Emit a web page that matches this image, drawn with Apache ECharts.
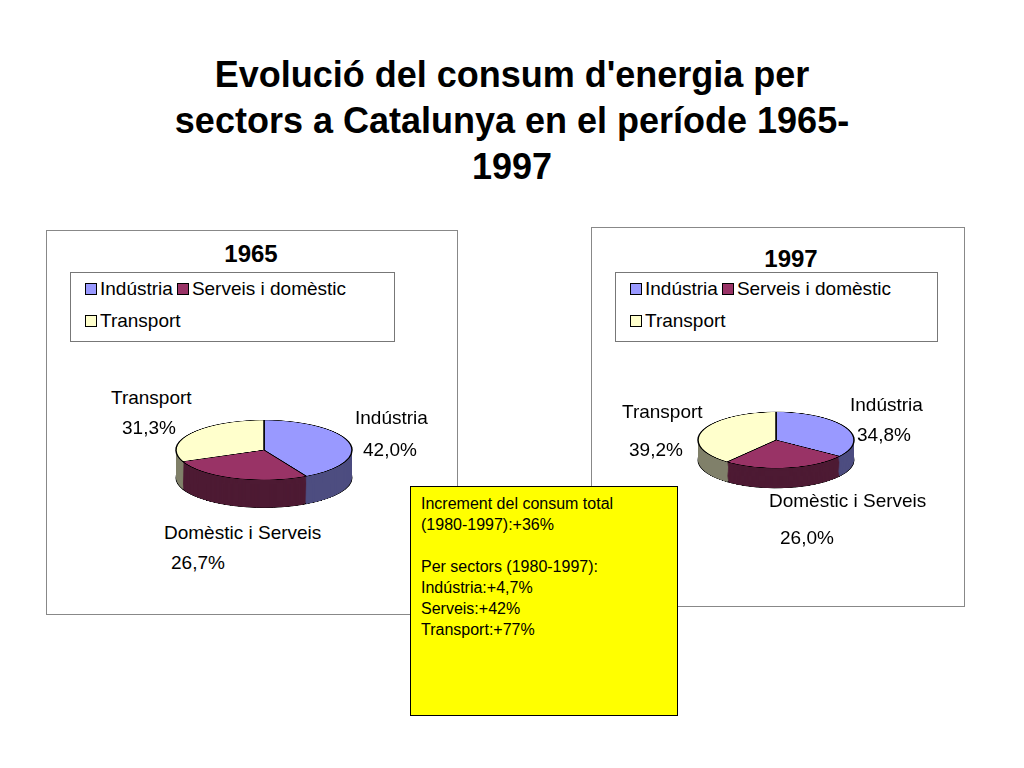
<!DOCTYPE html>
<html><head><meta charset="utf-8">
<script src="https://cdn.jsdelivr.net/npm/echarts@6/dist/echarts.min.js"></script>
<style>
body{margin:0;width:1024px;height:768px;background:#fff;font-family:"Liberation Sans",Arial,sans-serif;position:relative;overflow:hidden}
.abs{position:absolute}
.box{position:absolute;border:1px solid #888;background:#fff}
.leg{position:absolute;border:1px solid #777;font-size:19px;line-height:32px;padding-left:14px}
.sw{display:inline-block;width:10px;height:10px;border:1px solid #000;margin-right:3px}
.lbl{position:absolute;font-size:19px;line-height:27px}
</style></head><body>
<div class="abs" style="left:0;top:52px;width:1024px;text-align:center;font-size:36px;font-weight:bold;line-height:46px">Evolució del consum d'energia per<br>sectors a Catalunya en el període 1965-<br>1997</div>

<div class="box" style="left:46px;top:230px;width:410px;height:383px"></div>
<div class="box" style="left:591px;top:227px;width:372px;height:378px"></div>

<div class="abs" style="left:46px;top:240px;width:410px;text-align:center;font-size:24px;font-weight:bold">1965</div>
<div class="abs" style="left:591px;top:245px;width:400px;text-align:center;font-size:24px;font-weight:bold">1997</div>

<div id="leg1" class="leg" style="left:70px;top:272px;width:309px;height:68px"></div>
<div id="leg2" class="leg" style="left:615px;top:272px;width:307px;height:68px"></div>

<div id="p1" class="abs" style="left:64px;top:416px;width:400px;height:300px;transform:scaleY(0.34);transform-origin:top left"></div>
<div id="p2" class="abs" style="left:576px;top:404px;width:400px;height:300px;transform:scaleY(0.36);transform-origin:top left"></div>

<div id="labels"></div>

<div class="abs" style="left:410px;top:486px;width:256px;height:222px;background:#ffff00;border:1px solid #000;padding:6px 0 0 10px;font-size:16px;line-height:21px">Increment del consum total<br>(1980-1997):+36%<br><br>Per sectors (1980-1997):<br>Indústria:+4,7%<br>Serveis:+42%<br>Transport:+77%</div>

<script>
var legendNames=['Indústria','Serveis i domèstic','Transport'];
var sliceNames=['Indústria','Domèstic i Serveis','Transport'];
var topColors=['#9999ff','#993366','#ffffcc'];
var sideColors=['#4d4d80','#4d1a33','#80806a'];
var values1965=[42.0,26.7,31.3];
var values1997=[34.8,26.0,39.2];

function legendHtml(){
  return '<span class="sw" style="background:'+topColors[0]+'"></span>'+legendNames[0]+
    '<span class="sw" style="background:'+topColors[1]+';margin-left:4px"></span>'+legendNames[1]+'<br>'+
    '<span class="sw" style="background:'+topColors[2]+'"></span>'+legendNames[2];
}
document.getElementById('leg1').innerHTML=legendHtml();
document.getElementById('leg2').innerHTML=legendHtml();

function makePie(id,values,radius,depth){
  var series=[];
  for(var k=depth;k>0;k-=3){
    series.push({type:'pie',radius:radius,center:[200,100+k],label:{show:false},silent:true,animation:false,
      itemStyle:{borderColor:'#000',borderWidth:k===depth?1:0},
      data:values.map(function(v,i){return {value:v,itemStyle:{color:sideColors[i]}};})});
  }
  series.push({type:'pie',radius:radius,center:[200,100],label:{show:false},animation:false,
    itemStyle:{borderColor:'#000',borderWidth:1.5},
    data:values.map(function(v,i){return {name:sliceNames[i],value:v,itemStyle:{color:topColors[i]}};})});
  echarts.init(document.getElementById(id)).setOption({series:series});
}
makePie('p1',values1965,88,82);
makePie('p2',values1997,78,56);

function fmt(v){return v.toFixed(1).replace('.',',')+'%';}
var labelPos1965=[[355,404,363,436],[164,519,171,549],[111,384,122,414]];
var labelPos1997=[[850,391,857,421],[769,487,780,524],[622,398,629,436]];
var html='';
[[values1965,labelPos1965],[values1997,labelPos1997]].forEach(function(p){
  p[0].forEach(function(v,i){
    var q=p[1][i];
    html+='<div class="lbl" style="left:'+q[0]+'px;top:'+q[1]+'px">'+sliceNames[i]+'</div>';
    html+='<div class="lbl" style="left:'+q[2]+'px;top:'+q[3]+'px">'+fmt(v)+'</div>';
  });
});
document.getElementById('labels').innerHTML=html;
</script>
</body></html>
